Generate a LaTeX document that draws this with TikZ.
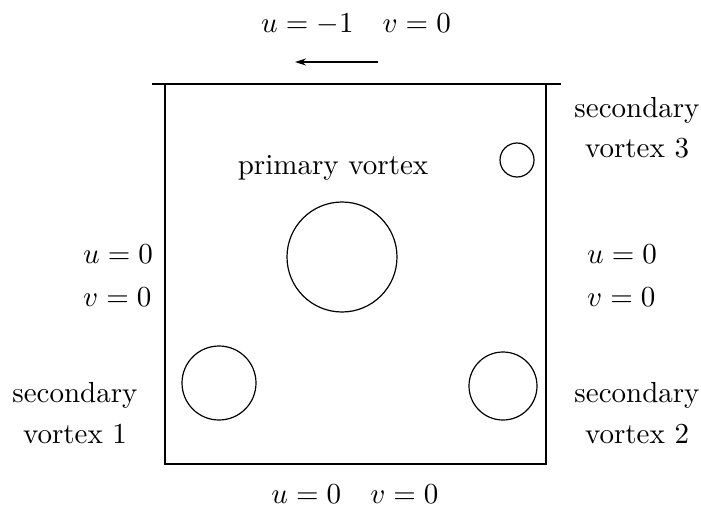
\documentclass[tikz,border=0pt]{standalone}
\usetikzlibrary{arrows.meta}
\newcommand{\bigtx}[1]{\scalebox{2.9}{#1}}
\begin{document}
\begin{tikzpicture}[x=1pt,y=-1pt,
  lbl/.style={anchor=base,inner sep=0pt,font=\normalsize},
  wall/.style={line width=1.3pt},
  vort/.style={circle,draw,line width=1.2pt,inner sep=0pt}]
\useasboundingbox (0,0) rectangle (701,513);
% cavity
\coordinate (tl) at (152,84);
\coordinate (tr) at (561,84);
\coordinate (wl) at (165,84);
\coordinate (wr) at (546,84);
\coordinate (bl) at (165,464);
\coordinate (br) at (546,464);
\draw[wall] (tl) -- (tr);
\draw[wall] (wl) -- (bl) -- (br) -- (wr);
% lid arrow
\coordinate (a1) at (378,62);
\coordinate (a2) at (295,62);
\draw[line width=1.3pt,-{Stealth[length=11pt,width=7pt]}] (a1) -- (a2);
% vortices
\node[vort,minimum size=110pt] (pv) at (342,257) {};
\node[vort,minimum size=34pt] (sv3) at (517,160) {};
\node[vort,minimum size=74pt] (sv1) at (219,383) {};
\node[vort,minimum size=68pt] (sv2) at (503,386) {};
% labels
\node[lbl] (top) at (356,33) {\bigtx{$u=-1\quad v=0$}};
\node[lbl] (bot) at (355,503) {\bigtx{$u=0\quad v=0$}};
\node[lbl] (plab) at (333,175) {\bigtx{primary vortex}};
\node[lbl] (s3a) at (637,118) {\bigtx{secondary}};
\node[lbl] (s3b) at (637,158) {\bigtx{vortex 3}};
\node[lbl] (s1a) at (75,402) {\bigtx{secondary}};
\node[lbl] (s1b) at (75,443) {\bigtx{vortex 1}};
\node[lbl] (s2a) at (637,402) {\bigtx{secondary}};
\node[lbl] (s2b) at (637,443) {\bigtx{vortex 2}};
\node[lbl,anchor=base west] (lu) at (83,263) {\bigtx{$u=0$}};
\node[lbl,anchor=base west] (lv) at (83,306) {\bigtx{$v=0$}};
\node[lbl,anchor=base west] (ru) at (587,263) {\bigtx{$u=0$}};
\node[lbl,anchor=base west] (rv) at (587,306) {\bigtx{$v=0$}};
\end{tikzpicture}
\end{document}
